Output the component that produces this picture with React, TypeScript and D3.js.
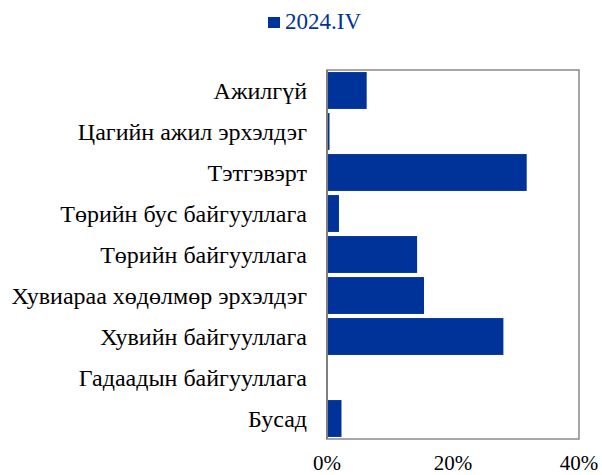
import React, { useEffect, useRef } from 'react';
import * as d3 from 'd3';

const categories = [
  'Ажилгүй',
  'Цагийн ажил эрхэлдэг',
  'Тэтгэвэрт',
  'Төрийн бус байгууллага',
  'Төрийн байгууллага',
  'Хувиараа хөдөлмөр эрхэлдэг',
  'Хувийн байгууллага',
  'Гадаадын байгууллага',
  'Бусад',
];
const values = [6.3, 0.4, 31.7, 1.9, 14.3, 15.4, 28.0, 0.1, 2.3];
const ticks = [0, 20, 40];
const seriesName = '2024.IV';

const BLUE = '#003399';
const FONT = 'Liberation Serif, Times New Roman, serif';

export default function App() {
  const svgRef = useRef<SVGSVGElement>(null);

  useEffect(() => {
    if (!svgRef.current) return;
    const svg = d3.select(svgRef.current);
    svg.selectAll('*').remove();

    const left = 327;
    const right = 579;
    const top = 70;
    const bottom = 439;

    const x = d3.scaleLinear().domain([0, 40]).range([left, right]);
    const y = d3.scaleBand().domain(categories).range([top, bottom]).paddingInner(0.1).paddingOuter(0.05);

    // plot box
    svg
      .append('rect')
      .attr('x', left)
      .attr('y', top)
      .attr('width', right - left)
      .attr('height', bottom - top)
      .attr('fill', 'none')
      .attr('stroke', '#898989')
      .attr('stroke-width', 1.5);

    // bars
    svg
      .selectAll('.bar')
      .data(values)
      .enter()
      .append('rect')
      .attr('x', x(0))
      .attr('y', (_, i) => y(categories[i])!)
      .attr('width', (d) => x(d) - x(0))
      .attr('height', y.bandwidth())
      .attr('fill', BLUE);

    // left axis line
    svg
      .append('line')
      .attr('x1', left)
      .attr('x2', left)
      .attr('y1', top)
      .attr('y2', bottom)
      .attr('stroke', '#7f7f7f')
      .attr('stroke-width', 2);

    // category labels
    svg
      .selectAll('.cat')
      .data(categories)
      .enter()
      .append('text')
      .attr('x', left - 20)
      .attr('y', (d) => y(d)! + y.bandwidth() / 2)
      .attr('dy', '0.36em')
      .attr('text-anchor', 'end')
      .style('font-family', FONT)
      .attr('font-size', 24)
      .attr('fill', '#000')
      .text((d) => d);

    // x tick labels
    svg
      .selectAll('.tick')
      .data(ticks)
      .enter()
      .append('text')
      .attr('x', (d) => x(d))
      .attr('y', 470)
      .attr('text-anchor', 'middle')
      .style('font-family', FONT)
      .attr('font-size', 21)
      .attr('fill', '#000')
      .text((d) => `${d}%`);

    // legend
    const lg = svg.append('g').attr('transform', 'translate(268,17)');
    lg.append('rect').attr('width', 12).attr('height', 11).attr('fill', BLUE);
    lg.append('text')
      .attr('x', 17)
      .attr('y', 11.5)
      .style('font-family', FONT)
      .attr('font-size', 23)
      .attr('fill', BLUE)
      .text(seriesName);
  }, []);

  return (
    <svg
      ref={svgRef}
      width={602}
      height={475}
      style={{ position: 'absolute', left: 0, top: 0, background: '#fff' }}
    />
  );
}
